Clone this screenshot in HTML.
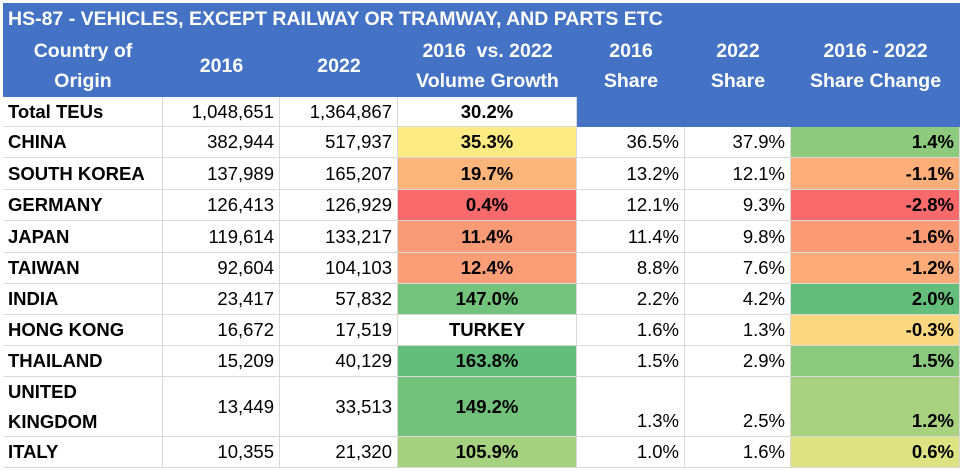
<!DOCTYPE html>
<html><head><meta charset="utf-8"><style>
body{margin:0;width:963px;height:471px;background:#fff;font-family:"Liberation Sans",sans-serif;position:relative;overflow:hidden}
div.c{position:absolute;box-sizing:border-box;font-size:18.5px;color:#000;white-space:nowrap;display:flex;align-items:center;padding:0 5px}
.h{background:#4472C4;color:#fff!important;font-weight:bold;justify-content:center;text-align:center;line-height:30px;font-size:19.5px!important}
.r{justify-content:flex-end}
.b{font-weight:bold}
.g{border-right:1px solid #d9d9d9;border-bottom:1px solid #d9d9d9}
.ctr{justify-content:center}
</style></head><body>
<div class="c h" style="left:3px;top:3px;width:957px;height:31px;justify-content:flex-start;font-size:19px">HS-87 - VEHICLES, EXCEPT RAILWAY OR TRAMWAY, AND PARTS ETC</div>
<div class="c h" style="left:3px;top:34px;width:160px;height:63px">Country of<br>Origin</div>
<div class="c h" style="left:163px;top:34px;width:117px;height:63px">2016</div>
<div class="c h" style="left:280px;top:34px;width:118px;height:63px">2022</div>
<div class="c h" style="left:398px;top:34px;width:179px;height:63px">2016&nbsp; vs. 2022<br>Volume Growth</div>
<div class="c h" style="left:577px;top:34px;width:108px;height:63px">2016<br>Share</div>
<div class="c h" style="left:685px;top:34px;width:106px;height:63px">2022<br>Share</div>
<div class="c h" style="left:791px;top:34px;width:169px;height:63px">2016 - 2022<br>Share Change</div>
<div class="c h" style="left:577px;top:97px;width:383px;height:30px"></div>
<div id="rows"></div>
<script>
var rows=[
["Total TEUs","1,048,651","1,364,867","30.2%","#fff","","","",null,97,30],
["CHINA","382,944","517,937","35.3%","#FFEB84","36.5%","37.9%","1.4%","#8ECA7E",127,31],
["SOUTH KOREA","137,989","165,207","19.7%","#FBB57A","13.2%","12.1%","-1.1%","#FBAE78",158,32],
["GERMANY","126,413","126,929","0.4%","#F8696B","12.1%","9.3%","-2.8%","#F8696B",190,31],
["JAPAN","119,614","133,217","11.4%","#F99A77","11.4%","9.8%","-1.6%","#FA9B75",221,32],
["TAIWAN","92,604","104,103","12.4%","#FA9E77","8.8%","7.6%","-1.2%","#FBAA78",253,31],
["INDIA","23,417","57,832","147.0%","#74C37C","2.2%","4.2%","2.0%","#63BE7B",284,31],
["HONG KONG","16,672","17,519","TURKEY","#fff","1.6%","1.3%","-0.3%","#FED880",315,31],
["THAILAND","15,209","40,129","163.8%","#63BE7B","1.5%","2.9%","1.5%","#8BC97E",346,31],
["UNITED<br>KINGDOM","13,449","33,513","149.2%","#72C27C","1.3%","2.5%","1.2%","#A8D27F",377,60],
["ITALY","10,355","21,320","105.9%","#A6D27F","1.0%","1.6%","0.6%","#DDE283",437,31]];
var h="";
rows.forEach(function(r){var t=r[9],ht=r[10],uk=ht>40;
function cell(x,w,txt,cls,bg,align){h+='<div class="c g '+cls+'" style="left:'+x+'px;top:'+t+'px;width:'+w+'px;height:'+ht+'px;background:'+(bg||'#fff')+(align?';align-items:'+align:'')+';line-height:30px">'+txt+'</div>';}
cell(3,160,r[0],"b","");
cell(163,117,r[1],"r","");
cell(280,118,r[2],"r","");
cell(398,179,r[3],"b ctr",r[4]);
if(r[8]){cell(577,108,r[5],"r","",uk?"flex-end":"");cell(685,106,r[6],"r","",uk?"flex-end":"");cell(791,169,r[7],"r b",r[8],uk?"flex-end":"");}
});
document.getElementById("rows").innerHTML=h;
</script>
</body></html>
